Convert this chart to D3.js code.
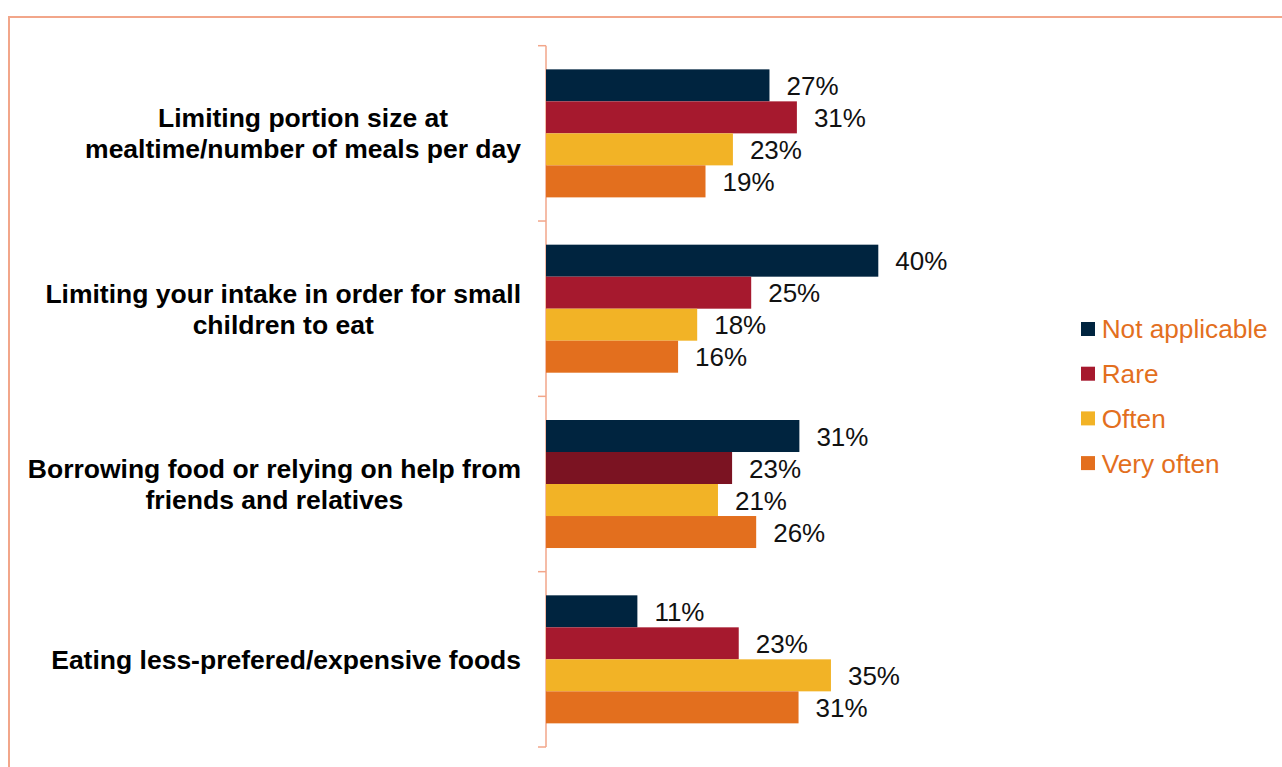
<!DOCTYPE html>
<html>
<head>
<meta charset="utf-8">
<script src="https://cdn.jsdelivr.net/npm/d3@7"></script>
<style>
  body { margin: 0; background: #fff; }
  svg { display: block; font-family: "Liberation Sans", Arial, sans-serif; }
</style>
</head>
<body>
<div id="chart"></div>
<script>
var svgWidth = 1282;
var svgHeight = 767;

// categories, one array of lines per label (wrapped as in the picture)
var categories = [
  ["Limiting portion size at", "mealtime/number of meals per day"],
  ["Limiting your intake in order for small", "children to eat"],
  ["Borrowing food or relying on help from", "friends and relatives"],
  ["Eating less-prefered/expensive foods"]
];

var seriesNames = ["Not applicable", "Rare", "Often", "Very often"];

// bar lengths (percent)
var notApplicable = [26.9, 40.0, 30.5, 11.0];
var rare = [30.2, 24.7, 22.4, 23.2];
var often = [22.5, 18.2, 20.7, 34.3];
var veryOften = [19.2, 15.9, 25.3, 30.4];

// printed labels
var notApplicableLabels = ["27%", "40%", "31%", "11%"];
var rareLabels = ["31%", "25%", "23%", "23%"];
var oftenLabels = ["23%", "18%", "21%", "35%"];
var veryOftenLabels = ["19%", "16%", "26%", "31%"];

var colors = ["#00243F", "#A6192E", "#F2B326", "#E36F1E"];
var accent = "#F2A68A";

var series = [
  { name: seriesNames[0], values: notApplicable, labels: notApplicableLabels },
  { name: seriesNames[1], values: rare, labels: rareLabels },
  { name: seriesNames[2], values: often, labels: oftenLabels },
  { name: seriesNames[3], values: veryOften, labels: veryOftenLabels }
];

var svg = d3.select("#chart")
  .append("svg")
  .attr("width", svgWidth)
  .attr("height", svgHeight);

// frame (runs off the right and bottom edges)
svg.append("rect")
  .attr("x", 9)
  .attr("y", 17)
  .attr("width", 1400)
  .attr("height", 900)
  .attr("fill", "none")
  .attr("stroke", accent)
  .attr("stroke-width", 2);

var x0 = 546;
var xScale = d3.scaleLinear()
  .domain([0, 40])
  .range([x0, x0 + 332.3]);

var yScale = d3.scaleBand()
  .domain(d3.range(categories.length))
  .range([45.7, 747])
  .padding(0);

var innerScale = d3.scaleBand()
  .domain(seriesNames)
  .range([0, yScale.bandwidth()])
  .paddingInner(0)
  .paddingOuter(0.739);

// category axis with ticks at band edges
var axis = svg.append("g");
axis.append("line")
  .attr("x1", x0).attr("x2", x0)
  .attr("y1", yScale.range()[0]).attr("y2", yScale.range()[1])
  .attr("stroke", accent)
  .attr("stroke-width", 1.5);

var edges = d3.range(categories.length).map(i => yScale(i)).concat([yScale.range()[1]]);
axis.selectAll(".tick")
  .data(edges)
  .enter()
  .append("line")
  .attr("x1", x0 - 8).attr("x2", x0)
  .attr("y1", d => d).attr("y2", d => d)
  .attr("stroke", accent)
  .attr("stroke-width", 1.5);

// bars
var groups = svg.selectAll(".group")
  .data(categories)
  .enter()
  .append("g")
  .attr("transform", (d, i) => `translate(0, ${yScale(i)})`);

groups.each(function(cat, ci) {
  var g = d3.select(this);
  series.forEach(function(s, si) {
    var fill = colors[si];
    // the Rare bar in the third group is a darker red in the source
    if (si === 1 && ci === 2) fill = "#7B1322";
    g.append("rect")
      .attr("x", x0)
      .attr("y", innerScale(s.name))
      .attr("width", xScale(s.values[ci]) - x0)
      .attr("height", innerScale.bandwidth())
      .attr("fill", fill);

    g.append("text")
      .attr("x", xScale(s.values[ci]) + 17)
      .attr("y", innerScale(s.name) + innerScale.bandwidth() / 2)
      .attr("dy", "0.37em")
      .attr("font-size", 26)
      .attr("fill", "#111")
      .text(s.labels[ci]);
  });
});

// category labels, centered blocks ending at the axis
var labelRight = 521;
var lineHeight = 31;
groups.each(function(lines, ci) {
  var g = d3.select(this);
  var t = g.append("text")
    .attr("font-size", 26.5)
    .attr("font-weight", "bold")
    .attr("fill", "#000")
    .attr("text-anchor", "middle");
  var mid = yScale.bandwidth() / 2;
  var top = mid - (lines.length - 1) * lineHeight / 2;
  var spans = lines.map(function(line, li) {
    return t.append("tspan")
      .attr("y", top + li * lineHeight)
      .attr("dy", "0.36em")
      .text(line);
  });
  var maxW = d3.max(spans, s => s.node().getComputedTextLength());
  spans.forEach(s => s.attr("x", labelRight - maxW / 2));
});

// legend
var legend = svg.append("g")
  .attr("transform", "translate(1081, 329)");

var legendItems = legend.selectAll(".item")
  .data(seriesNames)
  .enter()
  .append("g")
  .attr("transform", (d, i) => `translate(0, ${i * 44.7})`);

legendItems.append("rect")
  .attr("x", 0)
  .attr("y", -7)
  .attr("width", 14)
  .attr("height", 14)
  .attr("fill", (d, i) => colors[i]);

legendItems.append("text")
  .attr("x", 20.7)
  .attr("y", 0)
  .attr("dy", "0.36em")
  .attr("font-size", 26.2)
  .attr("fill", colors[3])
  .text(d => d);
</script>
</body>
</html>
